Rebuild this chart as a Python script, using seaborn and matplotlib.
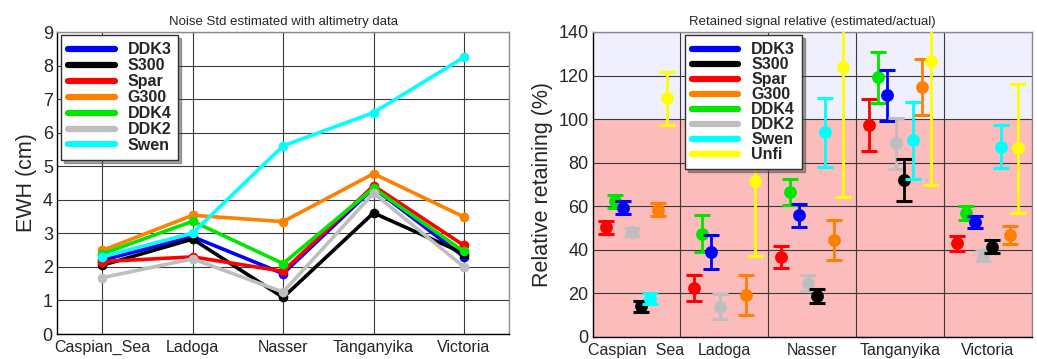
import numpy as np
import pandas as pd
import matplotlib
matplotlib.use("Agg")
import matplotlib.pyplot as plt
from matplotlib.lines import Line2D
import seaborn as sns

sns.set_style("white")
plt.rcParams['font.family'] = ['Liberation Sans', 'DejaVu Sans']

# ---------------- data ----------------
lakes = ['Caspian_Sea', 'Ladoga', 'Nasser', 'Tanganyika', 'Victoria']

# Left panel: noise std (cm EWH)
noise_ddk3 = [2.20, 2.90, 1.80, 4.35, 2.30]
noise_s300 = [2.05, 2.83, 1.09, 3.61, 2.40]
noise_spar = [2.16, 2.30, 1.87, 4.42, 2.64]
noise_g300 = [2.49, 3.54, 3.35, 4.78, 3.49]
noise_ddk4 = [2.39, 3.36, 2.10, 4.35, 2.46]
noise_ddk2 = [1.68, 2.24, 1.25, 4.20, 2.00]
noise_swen = [2.30, 3.01, 5.61, 6.60, 8.25]

# Right panel: relative retained signal (%) and error half-widths
ret_spar = [50.3, 22.3, 36.6, 97.3, 43.0]
err_spar = [3.0, 6.0, 5.0, 11.8, 3.3]
ret_ddk4 = [62.3, 47.4, 66.4, 119.3, 56.9]
err_ddk4 = [3.0, 8.6, 6.0, 11.7, 3.0]
ret_ddk3 = [59.4, 39.0, 55.8, 110.9, 52.8]
err_ddk3 = [2.8, 7.6, 5.2, 11.7, 2.9]
ret_ddk2 = [48.2, 13.9, 24.9, 89.0, 37.3]
err_ddk2 = [2.0, 5.8, 3.7, 11.7, 2.5]
ret_s300 = [14.1, np.nan, 18.7, 72.1, 41.5]
err_s300 = [2.5, np.nan, 3.3, 9.6, 3.0]
ret_swen = [17.6, np.nan, 93.9, 90.3, 87.4]
err_swen = [2.5, np.nan, 15.7, 17.7, 9.8]
ret_g300 = [58.4, 19.3, 44.7, 114.7, 46.8]
err_g300 = [3.0, 9.0, 9.2, 12.7, 4.2]
ret_unfi = [109.5, 71.4, 123.9, 126.8, 86.6]
err_unfi = [12.0, 34.0, 59.5, 57.0, 29.7]

colors = {'DDK3': '#0000ff', 'S300': '#000000', 'Spar': '#ff0000',
          'G300': '#ff8000', 'DDK4': '#00e600', 'DDK2': '#bebebe',
          'Swen': '#00ffff', 'Unfi': '#ffff00'}

left_series = {'DDK3': noise_ddk3, 'S300': noise_s300, 'Spar': noise_spar,
               'G300': noise_g300, 'DDK4': noise_ddk4, 'DDK2': noise_ddk2,
               'Swen': noise_swen}
right_series = [('Spar', ret_spar, err_spar), ('DDK4', ret_ddk4, err_ddk4),
                ('DDK3', ret_ddk3, err_ddk3), ('DDK2', ret_ddk2, err_ddk2),
                ('S300', ret_s300, err_s300), ('Swen', ret_swen, err_swen),
                ('G300', ret_g300, err_g300), ('Unfi', ret_unfi, err_unfi)]
right_legend_order = ['DDK3', 'S300', 'Spar', 'G300', 'DDK4', 'DDK2', 'Swen', 'Unfi']

# ---------------- figure ----------------
fig = plt.figure(figsize=(10.37, 3.59), dpi=100)
ax1 = fig.add_axes([0.055, 0.0696, 0.436, 0.841])
ax2 = fig.add_axes([0.5715, 0.0613, 0.4233, 0.8496])

grid_kw = dict(color='#3a3a3a', linewidth=0.8)
leg_kw = dict(loc='upper left', prop={'weight': 'bold', 'size': 11.5},
              handlelength=2.9, handletextpad=0.8,
              borderpad=0.45, borderaxespad=0, frameon=True, fancybox=False,
              shadow=True, framealpha=1, edgecolor='#303030')

# ----- left panel -----
df_left = pd.DataFrame([(lake, name, v) for name, vals in left_series.items()
                        for lake, v in zip(lakes, vals)],
                       columns=['lake', 'series', 'value'])
for name in left_series:
    sub = df_left[df_left['series'] == name]
    sns.lineplot(data=sub, x='lake', y='value', color=colors[name], ax=ax1,
                 marker='o', markersize=7, markeredgewidth=0, linewidth=2.6,
                 sort=False, legend=False)
ax1.set_xlim(-0.5, 4.5)
ax1.set_ylim(0, 9)
ax1.set_yticks(range(0, 10))
ax1.set_xticks(range(len(lakes)))
ax1.set_xticklabels(lakes)
ax1.set_xlabel('')
ax1.set_ylabel('EWH (cm)', fontsize=15.5, labelpad=4)
ax1.set_title('Noise Std estimated with altimetry data', fontsize=9.5, pad=5)
ax1.set_axisbelow(True)
ax1.grid(True, **grid_kw)
ax1.tick_params(axis='y', labelsize=13, direction='in', length=3, pad=3)
ax1.tick_params(axis='x', labelsize=11.5, direction='in', length=3, pad=4)

h1 = [Line2D([], [], color=colors[n], lw=4.5) for n in left_series]
leg1 = ax1.legend(h1, list(left_series), bbox_to_anchor=(0.009, 0.99),
                  labelspacing=0.06, **leg_kw)
leg1.get_frame().set_linewidth(1.0)

# ----- right panel -----
ax2.axhspan(100, 140, color='#efeffd', zorder=0.1, lw=0)
ax2.axhspan(0, 100, color='#fcbcbc', zorder=0.1, lw=0)
group_x = np.arange(len(lakes))
for k, (name, vals, errs) in enumerate(right_series):
    xs = group_x + 0.15 + 0.1 * k
    ax2.errorbar(xs, vals, yerr=errs, fmt='none', ecolor=colors[name],
                 elinewidth=2.0, capsize=5.5, capthick=2.2, zorder=3 + k)
    dfr = pd.DataFrame({'x': xs, 'y': vals})
    sns.scatterplot(data=dfr, x='x', y='y', color=colors[name], s=85,
                    linewidth=0, ax=ax2, zorder=3 + k, legend=False)
ax2.set_xlim(0, 5)
ax2.set_ylim(0, 140)
ax2.set_yticks(range(0, 141, 20))
ax2.set_xticks([1, 2, 3, 4])
ax2.set_xticklabels([])
ax2.set_xticks(group_x + 0.5, minor=True)
ax2.set_xticklabels([l.replace('_', '  ') for l in lakes], minor=True)
ax2.set_xlabel('')
ax2.set_ylabel('Relative retaining (%)', fontsize=15.5, labelpad=4)
ax2.set_title('Retained signal relative (estimated/actual)', fontsize=9.5, pad=5)
ax2.set_axisbelow(True)
ax2.grid(True, which='major', **grid_kw)
ax2.tick_params(axis='y', labelsize=13, direction='in', length=3, pad=3)
ax2.tick_params(axis='x', which='both', labelsize=11.5, length=0, pad=4)

h2 = [Line2D([], [], color=colors[n], lw=4.5) for n in right_legend_order]
leg2 = ax2.legend(h2, right_legend_order, bbox_to_anchor=(0.21, 0.99),
                  labelspacing=0.0, **leg_kw)
leg2.get_frame().set_linewidth(1.0)
leg2.set_zorder(20)

for ax in (ax1, ax2):
    for s in ('left', 'bottom'):
        ax.spines[s].set_color('black')
        ax.spines[s].set_linewidth(1.0)
    for s in ('top', 'right'):
        ax.spines[s].set_color('#8a8a8a')
        ax.spines[s].set_linewidth(1.0)

fig.savefig('out.png', dpi=100)
